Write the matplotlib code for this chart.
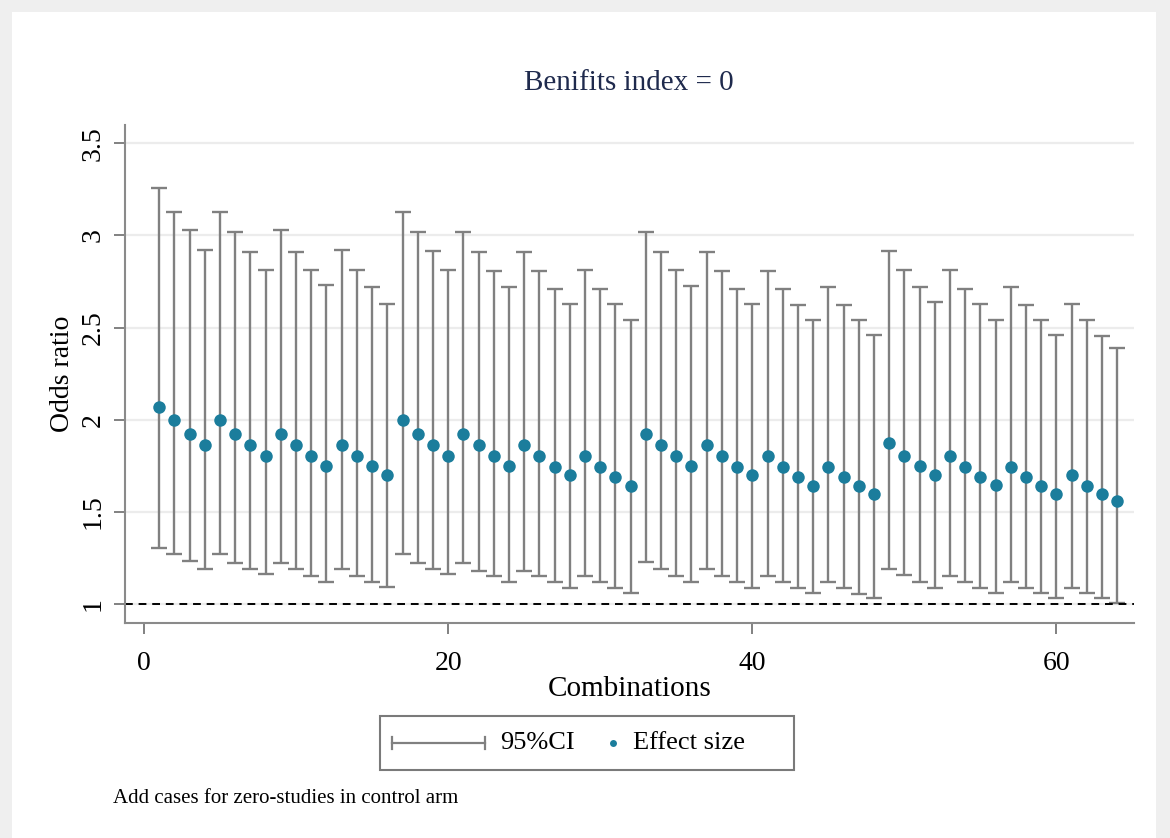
import matplotlib
matplotlib.use("Agg")
import matplotlib.pyplot as plt
from matplotlib.patches import Rectangle
from matplotlib.lines import Line2D
import numpy as np

plt.rcParams['font.family'] = ['Liberation Serif', 'DejaVu Serif']

# 64 combinations: effect size (odds ratio) and 95% CI
combination = np.arange(1, 65)
effect = [2.07, 2.00, 1.92, 1.86, 2.00, 1.92, 1.86, 1.80, 1.92, 1.86, 1.80, 1.75, 1.86, 1.80, 1.75, 1.70,
          2.00, 1.92, 1.86, 1.80, 1.92, 1.86, 1.80, 1.75, 1.86, 1.80, 1.74, 1.70, 1.80, 1.745, 1.69, 1.64,
          1.92, 1.86, 1.80, 1.75, 1.86, 1.80, 1.745, 1.70, 1.80, 1.745, 1.69, 1.64, 1.745, 1.69, 1.64, 1.595,
          1.87, 1.80, 1.75, 1.70, 1.80, 1.745, 1.69, 1.645, 1.745, 1.69, 1.64, 1.595, 1.70, 1.64, 1.595, 1.555]
upper = [3.26, 3.13, 3.03, 2.92, 3.13, 3.02, 2.91, 2.815, 3.03, 2.91, 2.815, 2.73, 2.92, 2.815, 2.72, 2.63,
         3.13, 3.02, 2.915, 2.81, 3.02, 2.91, 2.806, 2.72, 2.91, 2.806, 2.71, 2.63, 2.81, 2.71, 2.63, 2.54,
         3.02, 2.91, 2.81, 2.726, 2.91, 2.806, 2.71, 2.63, 2.806, 2.71, 2.62, 2.54, 2.72, 2.62, 2.54, 2.46,
         2.915, 2.81, 2.72, 2.636, 2.81, 2.71, 2.63, 2.54, 2.72, 2.62, 2.54, 2.46, 2.63, 2.54, 2.455, 2.39]
lower = [1.30, 1.27, 1.23, 1.19, 1.27, 1.22, 1.19, 1.16, 1.22, 1.19, 1.15, 1.12, 1.19, 1.15, 1.12, 1.09,
         1.27, 1.22, 1.19, 1.16, 1.22, 1.18, 1.15, 1.12, 1.18, 1.15, 1.12, 1.087, 1.15, 1.12, 1.087, 1.06,
         1.226, 1.186, 1.15, 1.12, 1.19, 1.15, 1.12, 1.087, 1.15, 1.12, 1.087, 1.06, 1.12, 1.087, 1.054, 1.03,
         1.19, 1.158, 1.12, 1.087, 1.15, 1.12, 1.087, 1.06, 1.12, 1.087, 1.06, 1.03, 1.087, 1.06, 1.03, 1.003]

y_ticks = [1, 1.5, 2, 2.5, 3, 3.5]
y_ticklabels = ['1', '1.5', '2', '2.5', '3', '3.5']
x_ticks = [0, 20, 40, 60]

teal = '#1b7d9c'
bar_grey = '#808080'
W, H = 1170, 838

fig = plt.figure(figsize=(11.7, 8.38), dpi=100, facecolor='#efefef')
# white panel inside the light grey frame
fig.add_artist(Rectangle((12 / W, 0), (1156 - 12) / W, 1 - 12 / H,
                         transform=fig.transFigure, facecolor='white', edgecolor='none', zorder=0))

ax = fig.add_axes([125 / W, 1 - 623 / H, (1134 - 125) / W, (623 - 125) / H])
ax.set_facecolor('white')

eff = np.array(effect)
ax.errorbar(combination, eff, yerr=[eff - np.array(lower), np.array(upper) - eff],
            fmt='none', ecolor=bar_grey, elinewidth=1.7, capsize=5.5, capthick=1.7, zorder=2)
ax.plot(combination, eff, 'o', color=teal, markersize=9, markeredgewidth=0, zorder=3)
ax.axhline(1, color='black', linestyle=(0, (4, 3)), linewidth=1.4, zorder=2)

ax.set_xlim(-1.25, 65.1)
ax.set_ylim(0.895, 3.6)
ax.set_yticks(y_ticks)
ax.set_yticklabels(y_ticklabels, rotation=90, va='center')
ax.set_xticks(x_ticks)
ax.tick_params(axis='both', labelsize=20, colors='#777777', labelcolor='black', length=8, width=1.3)
ax.tick_params(axis='x', pad=12)
ax.tick_params(axis='y', pad=6)
ax.grid(axis='y', color='#ececec', linewidth=1.6, zorder=0)
ax.set_axisbelow(True)
for side in ['top', 'right']:
    ax.spines[side].set_visible(False)
for side in ['left', 'bottom']:
    ax.spines[side].set_color('#8a8a8a')
    ax.spines[side].set_linewidth(1.5)

ax.set_xlabel('Combinations', fontsize=21, labelpad=0)
ax.set_ylabel('Odds ratio', fontsize=20, labelpad=4)
fig.text(629 / W, 1 - 83 / H, 'Benifits index = 0', fontsize=21, color='#1f2a4d',
         ha='center', va='center')

# legend box drawn below the axis
fig.add_artist(Rectangle((380 / W, 1 - 770 / H), (794 - 380) / W, (770 - 716) / H,
                         transform=fig.transFigure, facecolor='white', edgecolor='#7a7a7a',
                         linewidth=1.5))
ly = 1 - 743 / H
fig.add_artist(Line2D([392 / W, 485 / W], [ly, ly], transform=fig.transFigure,
                      color=bar_grey, linewidth=1.6))
for cx in (392, 485):
    fig.add_artist(Line2D([cx / W, cx / W], [ly - 6 / H, ly + 6 / H], transform=fig.transFigure,
                          color=bar_grey, linewidth=1.6))
fig.text(500 / W, ly, '95%CI', fontsize=19, ha='left', va='center')
fig.add_artist(Line2D([613 / W], [ly], transform=fig.transFigure, marker='o',
                      markersize=5, color=teal, markeredgewidth=0))
fig.text(633 / W, ly, 'Effect size', fontsize=19, ha='left', va='center')

fig.text(113 / W, 1 - 798 / H, 'Add cases for zero-studies in control arm', fontsize=15,
         ha='left', va='center')

fig.savefig('out.png', dpi=100, facecolor=fig.get_facecolor())
